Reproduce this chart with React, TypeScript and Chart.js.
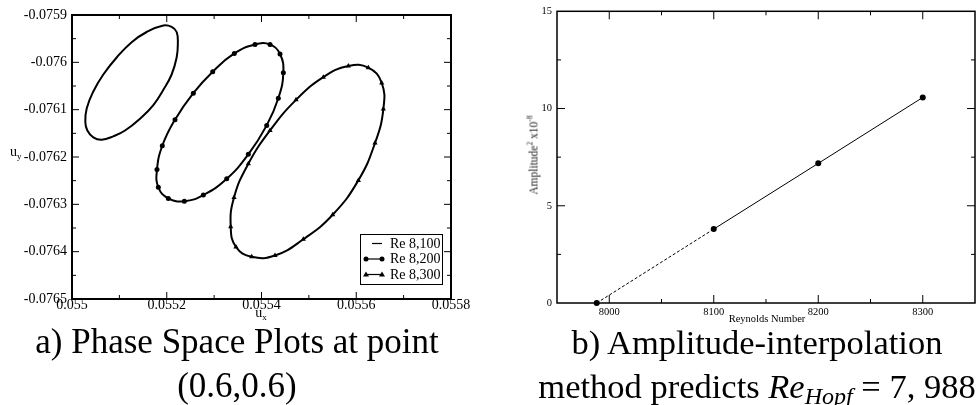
import React, { useEffect, useRef } from "react";
import { Chart, registerables } from "chart.js";

Chart.register(...registerables);

// ---------- Left chart: phase space plots ----------
const re8100X = [0.0551928, 0.0552103, 0.0552209, 0.0552234, 0.0552209, 0.0552103, 0.0551928, 0.0551717, 0.0551435, 0.0551119, 0.0550872, 0.0550626, 0.055045, 0.0550324, 0.0550281, 0.055031, 0.055045, 0.0550661, 0.0550943, 0.0551259, 0.0551576];
const re8100Y = [-0.0759223, -0.0759251, -0.0759359, -0.075961, -0.0759898, -0.0760257, -0.076058, -0.0760903, -0.076119, -0.0761441, -0.0761563, -0.0761635, -0.0761585, -0.0761441, -0.0761262, -0.0760975, -0.0760616, -0.0760257, -0.0759898, -0.0759574, -0.0759359];

const re8200X = [0.0553863, 0.055418, 0.0554391, 0.0554461, 0.0554355, 0.055411, 0.0553722, 0.0553266, 0.0552772, 0.0552371, 0.0552033, 0.0551822, 0.0551794, 0.0551906, 0.0552174, 0.0552561, 0.055297, 0.0553426];
const re8200Y = [-0.0759624, -0.0759624, -0.0759825, -0.0760221, -0.0760759, -0.0761332, -0.0761943, -0.076246, -0.0762804, -0.0762934, -0.0762875, -0.0762639, -0.0762266, -0.0761762, -0.0761211, -0.0760651, -0.0760199, -0.0759812];

const re8300X = [0.0555833, 0.0556255, 0.0556538, 0.0556572, 0.0556396, 0.0556044, 0.0555503, 0.0554883, 0.0554285, 0.0553793, 0.0553462, 0.055335, 0.055342, 0.0553722, 0.055418, 0.0554729, 0.0555305];
const re8300Y = [-0.0760077, -0.0760113, -0.0760436, -0.0760987, -0.0761706, -0.0762494, -0.076322, -0.0763737, -0.0764081, -0.0764109, -0.0763902, -0.0763472, -0.0762854, -0.0762143, -0.0761439, -0.0760793, -0.0760313];

const seriesLabels = ["Re 8,100", "Re 8,200", "Re 8,300"];

const leftXTicks = [0.055, 0.0552, 0.0554, 0.0556, 0.0558];
const leftXTickLabels = ["0.055", "0.0552", "0.0554", "0.0556", "0.0558"];
const leftXMinor = [0.0551, 0.0553, 0.0555, 0.0557];
const leftYTicks = [-0.0765, -0.0764, -0.0763, -0.0762, -0.0761, -0.076, -0.0759];
const leftYTickLabels = ["-0.0765", "-0.0764", "-0.0763", "-0.0762", "-0.0761", "-0.076", "-0.0759"];
const leftYMinor = [-0.07645, -0.07635, -0.07625, -0.07615, -0.07605, -0.07595];

// ---------- Right chart: amplitude interpolation ----------
const reynolds = [7988, 8100, 8200, 8300];
const amplitudeSq = [0, 3.8, 7.18, 10.57];

const rightXTicks = [8000, 8100, 8200, 8300];
const rightXTickLabels = ["8000", "8100", "8200", "8300"];
const rightXMinor = [7950, 8050, 8150, 8250, 8350];
const rightYTicks = [0, 5, 10, 15];
const rightYTickLabels = ["0", "5", "10", "15"];
const rightYMinor = [2.5, 7.5, 12.5];

const SERIF = "'Liberation Serif', 'Times New Roman', serif";

function closedLoop(xs: number[], ys: number[]) {
  const n = xs.length;
  const idx = [n - 1, ...xs.map((_, i) => i), 0, 1];
  return idx.map((i) => ({ x: xs[i], y: ys[i] }));
}

function loopRadii(n: number, r: number) {
  const out: number[] = [];
  for (let i = 0; i < n + 3; i++) out.push(i === 0 || i >= n + 1 ? 0 : r);
  return out;
}

function loopSegment(n: number) {
  return {
    borderColor: (ctx: any) =>
      ctx.p0DataIndex === 0 || ctx.p0DataIndex === n + 1 ? "rgba(0,0,0,0)" : undefined,
  };
}

const frameTicksPlugin = {
  id: "frameTicks",
  afterDatasetsDraw(chart: any, _args: any, opts: any) {
    const { ctx, chartArea: a, scales } = chart;
    const xs = scales.x;
    const ys = scales.y;
    ctx.save();
    ctx.strokeStyle = "#000";
    ctx.lineWidth = opts.tickWidth;
    const drawX = (vals: number[], len: number) => {
      vals.forEach((v) => {
        const px = xs.getPixelForValue(v);
        if (px < a.left + 1 || px > a.right - 1) return;
        ctx.beginPath();
        ctx.moveTo(px, a.bottom);
        ctx.lineTo(px, a.bottom - len);
        ctx.moveTo(px, a.top);
        ctx.lineTo(px, a.top + len);
        ctx.stroke();
      });
    };
    const drawY = (vals: number[], len: number) => {
      vals.forEach((v) => {
        const py = ys.getPixelForValue(v);
        if (py < a.top + 1 || py > a.bottom - 1) return;
        ctx.beginPath();
        ctx.moveTo(a.left, py);
        ctx.lineTo(a.left + len, py);
        ctx.moveTo(a.right, py);
        ctx.lineTo(a.right - len, py);
        ctx.stroke();
      });
    };
    drawX(opts.xMajor, opts.majorLen);
    drawX(opts.xMinor, opts.minorLen);
    drawY(opts.yMajor, opts.majorLen);
    drawY(opts.yMinor, opts.minorLen);
    ctx.lineWidth = opts.frameWidth;
    ctx.strokeRect(a.left, a.top, a.right - a.left, a.bottom - a.top);
    ctx.restore();
  },
};

const boxLegendPlugin = {
  id: "boxLegend",
  afterDraw(chart: any) {
    const { ctx, chartArea: a } = chart;
    const w = 82;
    const h = 50;
    const left = a.right - 9 - w;
    const top = a.bottom - 15 - h;
    ctx.save();
    ctx.fillStyle = "#fff";
    ctx.fillRect(left, top, w, h);
    ctx.strokeStyle = "#000";
    ctx.lineWidth = 1;
    ctx.strokeRect(left + 0.5, top + 0.5, w, h);
    ctx.font = `14px ${SERIF}`;
    ctx.textBaseline = "middle";
    ctx.textAlign = "left";
    chart.data.datasets.forEach((ds: any, i: number) => {
      const y = top + 9.5 + i * 15.5;
      const marker = ds.legendMarker as string;
      const x0 = marker === "none" ? left + 12 : left + 6;
      const x1 = left + 22;
      ctx.lineWidth = 1.2;
      ctx.beginPath();
      ctx.moveTo(x0, y);
      ctx.lineTo(x1, y);
      ctx.stroke();
      ctx.fillStyle = "#000";
      [x0, x1].forEach((mx) => {
        if (marker === "circle") {
          ctx.beginPath();
          ctx.arc(mx, y, 2.5, 0, Math.PI * 2);
          ctx.fill();
        } else if (marker === "triangle") {
          ctx.beginPath();
          ctx.moveTo(mx, y - 3);
          ctx.lineTo(mx + 3, y + 2);
          ctx.lineTo(mx - 3, y + 2);
          ctx.closePath();
          ctx.fill();
        }
      });
      ctx.fillText(ds.label, left + 30, y + 0.5);
    });
    ctx.restore();
  },
};

function LeftChart() {
  const ref = useRef<HTMLCanvasElement | null>(null);
  useEffect(() => {
    if (!ref.current) return;
    const n1 = re8100X.length;
    const n2 = re8200X.length;
    const n3 = re8300X.length;
    const chart = new Chart(ref.current, {
      type: "scatter",
      data: {
        datasets: [
          {
            label: seriesLabels[0],
            data: closedLoop(re8100X, re8100Y),
            showLine: true,
            borderColor: "#000",
            backgroundColor: "#000",
            borderWidth: 2,
            tension: 0.45,
            pointRadius: 0,
            segment: loopSegment(n1),
            legendMarker: "none",
          } as any,
          {
            label: seriesLabels[1],
            data: closedLoop(re8200X, re8200Y),
            showLine: true,
            borderColor: "#000",
            backgroundColor: "#000",
            borderWidth: 2,
            tension: 0.45,
            pointStyle: "circle",
            pointRadius: loopRadii(n2, 2.5),
            pointBorderWidth: 0,
            segment: loopSegment(n2),
            legendMarker: "circle",
          } as any,
          {
            label: seriesLabels[2],
            data: closedLoop(re8300X, re8300Y),
            showLine: true,
            borderColor: "#000",
            backgroundColor: "#000",
            borderWidth: 2,
            tension: 0.45,
            pointStyle: "triangle",
            pointRadius: loopRadii(n3, 3),
            pointBorderWidth: 0,
            segment: loopSegment(n3),
            legendMarker: "triangle",
          } as any,
        ],
      },
      options: {
        responsive: false,
        animation: false,
        events: [],
        layout: { padding: { left: 0, top: 15, right: 27, bottom: 0 } },
        scales: {
          x: {
            type: "linear",
            min: 0.055,
            max: 0.0558,
            afterBuildTicks: (s: any) => {
              s.ticks = leftXTicks.map((v) => ({ value: v }));
            },
            afterFit: (s: any) => {
              s.height = 21;
            },
            ticks: {
              autoSkip: false,
              maxRotation: 0,
              padding: -2,
              color: "#000",
              font: { family: SERIF, size: 14 },
              callback: (_v: any, i: number) => leftXTickLabels[i],
            },
            grid: { display: false, drawTicks: false },
            border: { display: false },
          },
          y: {
            type: "linear",
            min: -0.0765,
            max: -0.0759,
            afterBuildTicks: (s: any) => {
              s.ticks = leftYTicks.map((v) => ({ value: v }));
            },
            afterFit: (s: any) => {
              s.width = 72;
            },
            ticks: {
              autoSkip: false,
              padding: 5,
              color: "#000",
              font: { family: SERIF, size: 14 },
              callback: (_v: any, i: number) => leftYTickLabels[i],
            },
            grid: { display: false, drawTicks: false },
            border: { display: false },
          },
        },
        plugins: {
          legend: { display: false },
          tooltip: { enabled: false },
          frameTicks: {
            xMajor: leftXTicks,
            xMinor: leftXMinor,
            yMajor: leftYTicks,
            yMinor: leftYMinor,
            majorLen: 7,
            minorLen: 4,
            tickWidth: 1,
            frameWidth: 2,
          },
        } as any,
      },
      plugins: [frameTicksPlugin, boxLegendPlugin],
    });
    return () => chart.destroy();
  }, []);
  return (
    <canvas
      ref={ref}
      width={478}
      height={320}
      style={{ position: "absolute", left: 0, top: 0, width: 478, height: 320 }}
    />
  );
}

function RightChart() {
  const ref = useRef<HTMLCanvasElement | null>(null);
  useEffect(() => {
    if (!ref.current) return;
    const chart = new Chart(ref.current, {
      type: "scatter",
      data: {
        datasets: [
          {
            label: "Amplitude²",
            data: reynolds.map((r, i) => ({ x: r, y: amplitudeSq[i] })),
            showLine: true,
            borderColor: "#000",
            backgroundColor: "#000",
            borderWidth: 1,
            pointRadius: 3,
            pointBorderWidth: 0,
            clip: false,
            segment: {
              borderDash: (ctx: any) => (ctx.p0DataIndex === 0 ? [3, 2] : undefined),
            },
          } as any,
        ],
      },
      options: {
        responsive: false,
        animation: false,
        events: [],
        layout: { padding: { left: 0, top: 8, right: 1, bottom: 0 } },
        scales: {
          x: {
            type: "linear",
            min: 7950,
            max: 8350,
            afterBuildTicks: (s: any) => {
              s.ticks = rightXTicks.map((v) => ({ value: v }));
            },
            afterFit: (s: any) => {
              s.height = 19;
            },
            ticks: {
              autoSkip: false,
              maxRotation: 0,
              padding: 3,
              color: "#000",
              font: { family: SERIF, size: 10.5 },
              callback: (_v: any, i: number) => rightXTickLabels[i],
            },
            grid: { display: false, drawTicks: false },
            border: { display: false },
          },
          y: {
            type: "linear",
            min: 0,
            max: 15,
            afterBuildTicks: (s: any) => {
              s.ticks = rightYTicks.map((v) => ({ value: v }));
            },
            afterFit: (s: any) => {
              s.width = 77;
            },
            ticks: {
              autoSkip: false,
              padding: 5,
              color: "#000",
              font: { family: SERIF, size: 10.5 },
              callback: (_v: any, i: number) => rightYTickLabels[i],
            },
            grid: { display: false, drawTicks: false },
            border: { display: false },
          },
        },
        plugins: {
          legend: { display: false },
          tooltip: { enabled: false },
          frameTicks: {
            xMajor: rightXTicks,
            xMinor: rightXMinor,
            yMajor: rightYTicks,
            yMinor: rightYMinor,
            majorLen: 8,
            minorLen: 4,
            tickWidth: 1,
            frameWidth: 1.5,
          },
        } as any,
      },
      plugins: [frameTicksPlugin],
    });
    return () => chart.destroy();
  }, []);
  return (
    <canvas
      ref={ref}
      width={499}
      height={322}
      style={{ position: "absolute", left: 480, top: 0, width: 499, height: 322 }}
    />
  );
}

export default function App() {
  const abs = (s: React.CSSProperties): React.CSSProperties => ({
    position: "absolute",
    whiteSpace: "nowrap",
    fontFamily: SERIF,
    fontWeight: 400,
    color: "#000",
    ...s,
  });
  return (
    <div style={{ position: "absolute", left: 0, top: 0, width: 979, height: 405, background: "#fff", overflow: "hidden" }}>
      <LeftChart />
      <RightChart />
      {/* left axis titles */}
      <div style={abs({ left: 261, top: 306, transform: "translateX(-50%)", fontSize: 14, lineHeight: "14px" })}>
        u<sub style={{ fontSize: 9, verticalAlign: "-3px" }}>x</sub>
      </div>
      <div style={abs({ left: 10, top: 145, fontSize: 14, lineHeight: "14px" })}>
        u<sub style={{ fontSize: 9, verticalAlign: "-3px" }}>y</sub>
      </div>
      {/* right axis titles */}
      <div style={abs({ left: 767, top: 313, transform: "translateX(-50%)", fontSize: 10.5, lineHeight: "11px" })}>
        Reynolds Number
      </div>
      <div
        style={abs({
          left: 532,
          top: 155,
          transform: "translate(-50%, -50%) rotate(-90deg)",
          fontSize: 11.5,
          lineHeight: "12px",
          color: "#222",
        })}
      >
        Amplitude<sup style={{ fontSize: 7.5, verticalAlign: "5px" }}>2</sup> x10
        <sup style={{ fontSize: 7.5, verticalAlign: "5px" }}>-8</sup>
      </div>
      {/* captions */}
      <div style={abs({ left: 0, top: 320, width: 474, textAlign: "center", fontSize: 35, lineHeight: "44px" })}>
        a) Phase Space Plots at point
        <br />
        (0.6,0.6)
      </div>
      <div style={abs({ left: 512, top: 320, width: 490, textAlign: "center", fontSize: 34.5, lineHeight: "44px" })}>
        b) Amplitude-interpolation
        <br />
        method predicts <i>Re</i>
        <sub style={{ fontSize: 24, verticalAlign: "-6px", lineHeight: 0 }}>
          <i>Hopf</i>
        </sub>{" "}
        = 7, 988
      </div>
    </div>
  );
}
